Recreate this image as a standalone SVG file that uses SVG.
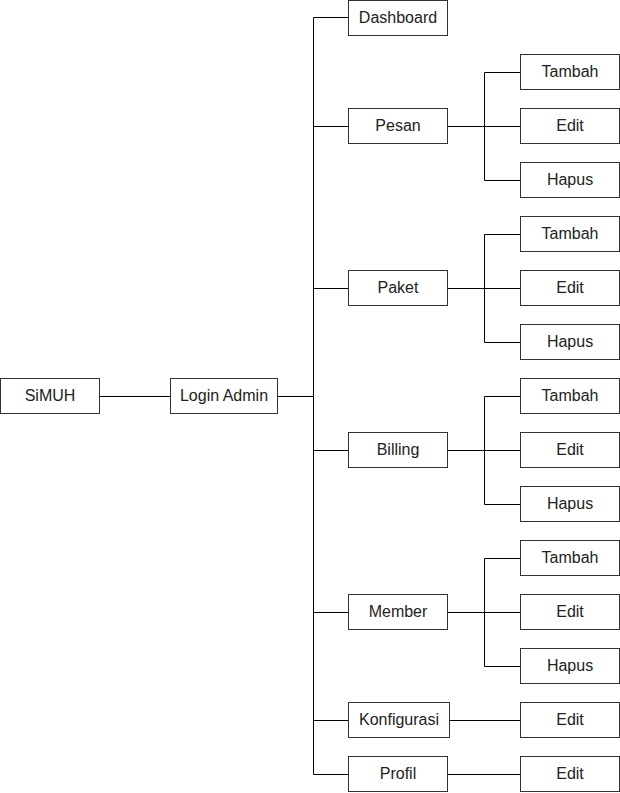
<svg xmlns="http://www.w3.org/2000/svg" width="620" height="793" viewBox="0 0 620 793">
<style>
.n rect{fill:#fff;stroke:#333;stroke-width:1}
.n text{font-family:"Liberation Sans",Arial,sans-serif;font-size:16px;fill:#222;text-anchor:middle}
#edges path{fill:none;stroke:#000;stroke-width:1}
</style>
<rect width="620" height="793" fill="#fff"/>
<g id="edges">
<path d="M99.5 396.5H170.5"/>
<path d="M277.5 396.5H313.5"/>
<path d="M313.5 17.5V774.5"/>
<path d="M313.5 17.5H348.5M313.5 126.5H348.5M313.5 288.5H348.5M313.5 450.5H348.5M313.5 612.5H348.5M313.5 720.5H348.5M313.5 774.5H348.5"/>
<path d="M447.5 126.5H520.5M484.5 72.5V180.5M484.5 72.5H520.5M484.5 180.5H520.5"/>
<path d="M447.5 288.5H520.5M484.5 234.5V342.5M484.5 234.5H520.5M484.5 342.5H520.5"/>
<path d="M447.5 450.5H520.5M484.5 396.5V504.5M484.5 396.5H520.5M484.5 504.5H520.5"/>
<path d="M447.5 612.5H520.5M484.5 558.5V666.5M484.5 558.5H520.5M484.5 666.5H520.5"/>
<path d="M449.5 720.5H520.5"/>
<path d="M447.5 774.5H520.5"/>
</g>
<g id="simuh" class="n"><rect x="0.5" y="378.5" width="99" height="35"/><text x="50" y="401">SiMUH</text></g>
<g id="login" class="n"><rect x="170.5" y="378.5" width="107" height="35"/><text x="224" y="401">Login Admin</text></g>
<g id="dashboard" class="n"><rect x="348.5" y="0.5" width="99" height="35"/><text x="398" y="23">Dashboard</text></g>
<g id="pesan" class="n"><rect x="348.5" y="108.5" width="99" height="35"/><text x="398" y="131">Pesan</text></g>
<g id="pesan-tambah" class="n"><rect x="520.5" y="54.5" width="99" height="35"/><text x="570" y="77">Tambah</text></g>
<g id="pesan-edit" class="n"><rect x="520.5" y="108.5" width="99" height="35"/><text x="570" y="131">Edit</text></g>
<g id="pesan-hapus" class="n"><rect x="520.5" y="162.5" width="99" height="35"/><text x="570" y="185">Hapus</text></g>
<g id="paket" class="n"><rect x="348.5" y="270.5" width="99" height="35"/><text x="398" y="293">Paket</text></g>
<g id="paket-tambah" class="n"><rect x="520.5" y="216.5" width="99" height="35"/><text x="570" y="239">Tambah</text></g>
<g id="paket-edit" class="n"><rect x="520.5" y="270.5" width="99" height="35"/><text x="570" y="293">Edit</text></g>
<g id="paket-hapus" class="n"><rect x="520.5" y="324.5" width="99" height="35"/><text x="570" y="347">Hapus</text></g>
<g id="billing" class="n"><rect x="348.5" y="432.5" width="99" height="35"/><text x="398" y="455">Billing</text></g>
<g id="billing-tambah" class="n"><rect x="520.5" y="378.5" width="99" height="35"/><text x="570" y="401">Tambah</text></g>
<g id="billing-edit" class="n"><rect x="520.5" y="432.5" width="99" height="35"/><text x="570" y="455">Edit</text></g>
<g id="billing-hapus" class="n"><rect x="520.5" y="486.5" width="99" height="35"/><text x="570" y="509">Hapus</text></g>
<g id="member" class="n"><rect x="348.5" y="594.5" width="99" height="35"/><text x="398" y="617">Member</text></g>
<g id="member-tambah" class="n"><rect x="520.5" y="540.5" width="99" height="35"/><text x="570" y="563">Tambah</text></g>
<g id="member-edit" class="n"><rect x="520.5" y="594.5" width="99" height="35"/><text x="570" y="617">Edit</text></g>
<g id="member-hapus" class="n"><rect x="520.5" y="648.5" width="99" height="35"/><text x="570" y="671">Hapus</text></g>
<g id="konfigurasi" class="n"><rect x="348.5" y="702.5" width="101" height="35"/><text x="399" y="725">Konfigurasi</text></g>
<g id="konfigurasi-edit" class="n"><rect x="520.5" y="702.5" width="99" height="35"/><text x="570" y="725">Edit</text></g>
<g id="profil" class="n"><rect x="348.5" y="756.5" width="99" height="35"/><text x="398" y="779">Profil</text></g>
<g id="profil-edit" class="n"><rect x="520.5" y="756.5" width="99" height="35"/><text x="570" y="779">Edit</text></g>
</svg>
